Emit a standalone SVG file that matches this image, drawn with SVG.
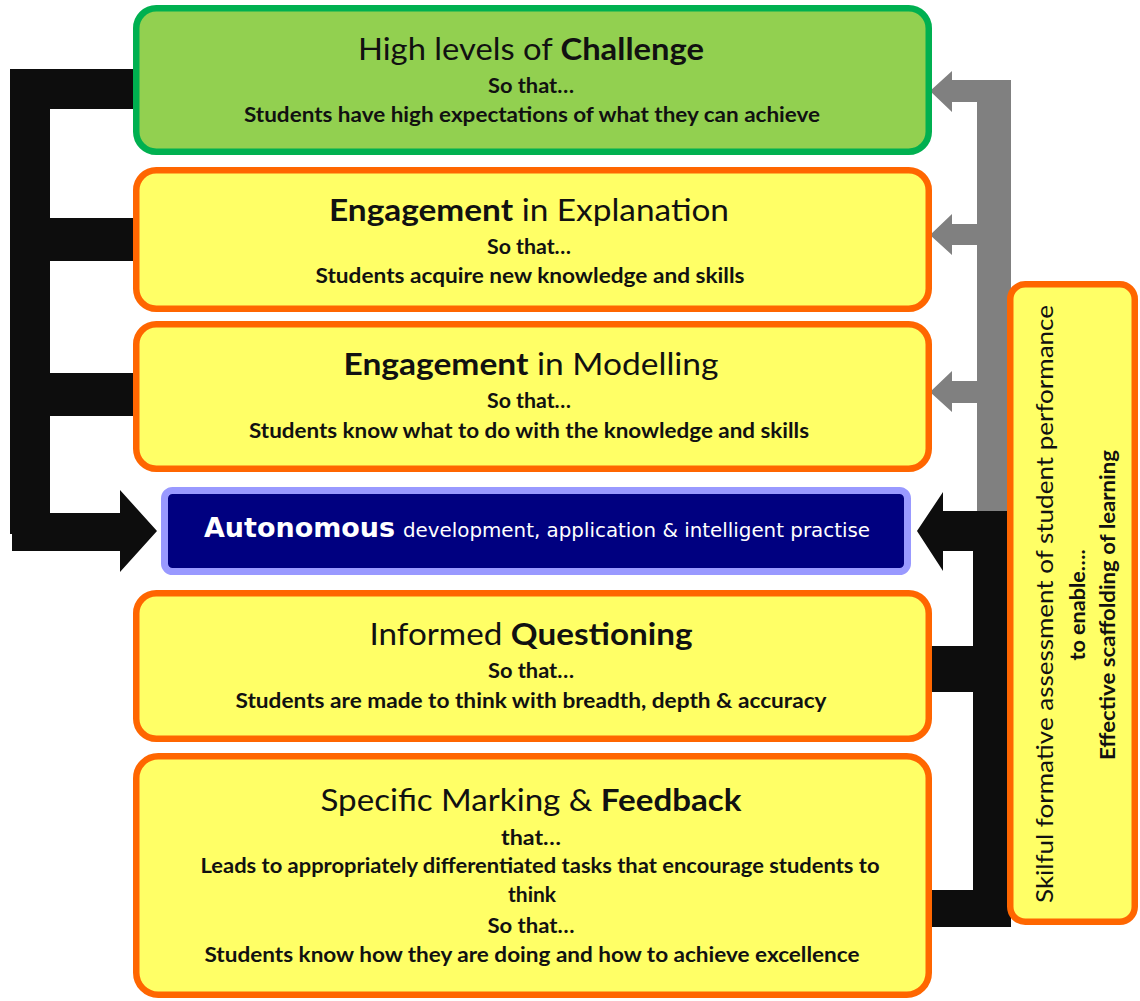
<svg xmlns="http://www.w3.org/2000/svg" width="1140" height="1001" viewBox="0 0 1140 1001">
<style>
.bg{fill:#ffffff}
.blk{fill:#0d0d0d}
.gry{fill:#808080}
.green{fill:#92d050;stroke:#00b050;stroke-width:6.5}
.yel{fill:#ffff66;stroke:#ff6600;stroke-width:6.5}
.auto{fill:#000080;stroke:#9999ff;stroke-width:7}
text{font-family:Lato,"Open Sans","Liberation Sans",sans-serif;fill:#111;text-anchor:middle}
.ttl{font-size:30px}
.bd{font-weight:bold}
.sub{font-size:20.5px;font-weight:bold}
.aut{font-family:"DejaVu Sans","Liberation Sans",sans-serif;fill:#ffffff;text-anchor:start}
.rot1{font-size:23px}
.rot2{font-size:20.5px;font-weight:bold}
</style>
<rect class="bg" x="0" y="0" width="1140" height="1001"/>
<g id="connectors">
  <!-- left black bracket -->
  <rect class="blk" x="10" y="69" width="40" height="465"/>
  <rect class="blk" x="10" y="69" width="124" height="40"/>
  <rect class="blk" x="20" y="218" width="114" height="43"/>
  <rect class="blk" x="20" y="373" width="114" height="43"/>
  <polygon class="blk" points="12,513 120,513 120,490 157,531 120,572 120,551 12,551"/>
  <!-- right gray arrows -->
  <polygon class="gry" points="1011,80 1011,511 977,511 977,102 952,102 952,112 930,91 952,71 952,80"/>
  <polygon class="gry" points="977,224 952,224 952,214 930,235 952,255 952,245 977,245"/>
  <polygon class="gry" points="977,381 952,381 952,371 930,392 952,412 952,403 977,403"/>
  <!-- right black arrows -->
  <polygon class="blk" points="1011,511 1011,927 973,927 973,551 943,551 943,571 917,531 943,492 943,511"/>
  <rect class="blk" x="932" y="646" width="43" height="46"/>
  <rect class="blk" x="932" y="890" width="43" height="37"/>
</g>
<g id="challenge">
  <rect class="green" x="136.25" y="8.25" width="792.5" height="143.5" rx="20"/>
  <text class="ttl" x="531" y="60" textLength="346" lengthAdjust="spacingAndGlyphs">High levels of <tspan class="bd">Challenge</tspan></text>
  <text class="sub" x="531" y="93" textLength="86" lengthAdjust="spacingAndGlyphs">So that…</text>
  <text class="sub" x="532" y="122" textLength="576" lengthAdjust="spacingAndGlyphs">Students have high expectations of what they can achieve</text>
</g>
<g id="explanation">
  <rect class="yel" x="136.25" y="170.25" width="792.5" height="138.5" rx="20"/>
  <text class="ttl" x="529" y="221" textLength="400" lengthAdjust="spacingAndGlyphs"><tspan class="bd">Engagement</tspan> in Explanation</text>
  <text class="sub" x="529" y="254" textLength="84" lengthAdjust="spacingAndGlyphs">So that…</text>
  <text class="sub" x="530" y="283" textLength="429" lengthAdjust="spacingAndGlyphs">Students acquire new knowledge and skills</text>
</g>
<g id="modelling">
  <rect class="yel" x="136.25" y="324.25" width="792.5" height="144.5" rx="20"/>
  <text class="ttl" x="531" y="375" textLength="375" lengthAdjust="spacingAndGlyphs"><tspan class="bd">Engagement</tspan> in Modelling</text>
  <text class="sub" x="529" y="408" textLength="84" lengthAdjust="spacingAndGlyphs">So that…</text>
  <text class="sub" x="529" y="438" textLength="560" lengthAdjust="spacingAndGlyphs">Students know what to do with the knowledge and skills</text>
</g>
<g id="autonomous">
  <rect class="auto" x="164.5" y="490.5" width="743" height="81" rx="8"/>
  <text class="aut" x="204" y="537"><tspan font-size="27" font-weight="bold" textLength="191" lengthAdjust="spacingAndGlyphs">Autonomous</tspan><tspan x="403" font-size="19.8" textLength="467" lengthAdjust="spacingAndGlyphs">development, application &amp; intelligent practise</tspan></text>
</g>
<g id="questioning">
  <rect class="yel" x="136.25" y="593.25" width="792.5" height="145.5" rx="20"/>
  <text class="ttl" x="531" y="645" textLength="323" lengthAdjust="spacingAndGlyphs">Informed <tspan class="bd">Questioning</tspan></text>
  <text class="sub" x="531" y="678" textLength="86" lengthAdjust="spacingAndGlyphs">So that…</text>
  <text class="sub" x="531" y="708" textLength="591" lengthAdjust="spacingAndGlyphs">Students are made to think with breadth, depth &amp; accuracy</text>
</g>
<g id="feedback">
  <rect class="yel" x="136.25" y="756.25" width="792.5" height="238.5" rx="22"/>
  <text class="ttl" x="531" y="811" textLength="421" lengthAdjust="spacingAndGlyphs">Specific Marking &amp; <tspan class="bd">Feedback</tspan></text>
  <text class="sub" x="531" y="845" textLength="60" lengthAdjust="spacingAndGlyphs">that…</text>
  <text class="sub" x="540" y="873" textLength="679" lengthAdjust="spacingAndGlyphs">Leads to appropriately differentiated tasks that encourage students to</text>
  <text class="sub" x="532" y="902" textLength="48" lengthAdjust="spacingAndGlyphs">think</text>
  <text class="sub" x="531" y="933" textLength="87" lengthAdjust="spacingAndGlyphs">So that…</text>
  <text class="sub" x="532" y="962" textLength="655" lengthAdjust="spacingAndGlyphs">Students know how they are doing and how to achieve excellence</text>
</g>
<g id="assessment">
  <rect class="yel" x="1010.25" y="284.25" width="124.5" height="637.5" rx="15"/>
  <text class="rot1" transform="translate(1053,604) rotate(-90)" x="0" y="0" textLength="598" lengthAdjust="spacingAndGlyphs">Skilful formative assessment of student performance</text>
  <text class="rot2" transform="translate(1085,605) rotate(-90)" x="0" y="0" textLength="111" lengthAdjust="spacingAndGlyphs">to enable….</text>
  <text class="rot2" transform="translate(1115,605) rotate(-90)" x="0" y="0" textLength="310" lengthAdjust="spacingAndGlyphs">Effective scaffolding of learning</text>
</g>
</svg>
